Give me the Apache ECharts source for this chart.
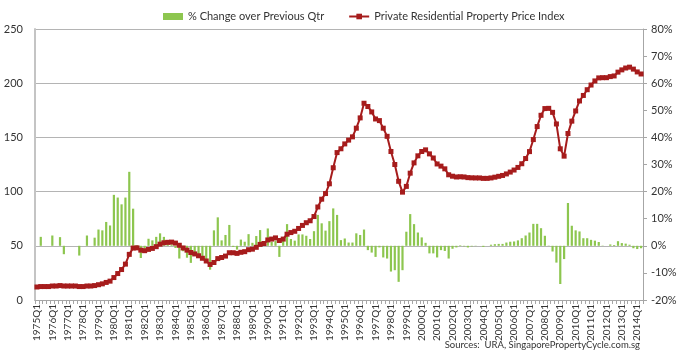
<!DOCTYPE html>
<html>
<head>
<meta charset="utf-8">
<script src="https://cdn.jsdelivr.net/npm/echarts@6/dist/echarts.min.js"></script>
<style>
  html, body { margin: 0; padding: 0; background: #fff; }
  #chart { width: 686px; height: 353px; }
</style>
</head>
<body>
<div id="chart"></div>
<script>
// quarters 1975Q1 .. 2014Q2
const quarters = []
for (let y = 1975; y <= 2014; y++) {
  for (let q = 1; q <= 4; q++) {
    if (y === 2014 && q > 2) break
    quarters.push(y + 'Q' + q)
  }
}

// Private Residential Property Price Index (left axis)
const priceIndex = [
  12.0, 12.4, 12.4, 12.4, 12.9, 12.9, 13.3, 12.9, 12.9, 12.9, 12.9, 12.4, 12.4, 12.9, 12.9, 13.3,
  14.1, 14.9, 16.2, 17.4, 20.7, 24.4, 28.1, 33.1, 42.1, 47.9, 48.1, 46.0, 45.5, 46.7, 47.6, 49.2,
  51.5, 52.8, 53.2, 53.4, 52.5, 50.5, 48.0, 46.0, 43.8, 42.5, 40.8, 38.5, 36.0, 32.8, 34.6, 38.2,
  39.2, 40.5, 43.6, 43.6, 43.0, 44.0, 44.6, 46.4, 46.9, 48.6, 51.3, 52.1, 55.4, 56.2, 57.3, 54.9,
  56.2, 60.7, 62.2, 63.4, 66.0, 68.8, 71.3, 73.1, 77.0, 85.8, 93.0, 98.2, 107.2, 122.0, 136.0, 139.5,
  144.0, 147.5, 150.5, 158.5, 168.0, 181.5, 178.5, 173.5, 167.0, 165.5, 158.5, 151.0, 137.0, 125.0, 109.5, 99.5,
  104.8, 117.0, 126.5, 133.0, 137.0, 138.5, 134.8, 131.0, 125.5, 123.5, 121.0, 115.5, 114.2, 113.5, 113.7, 113.5,
  112.9, 112.7, 112.6, 112.6, 112.2, 112.2, 112.6, 113.3, 114.1, 114.9, 116.3, 118.0, 119.9, 122.3, 125.7, 130.5,
  136.9, 148.0, 160.0, 170.4, 176.6, 176.8, 173.1, 162.4, 139.5, 132.7, 153.6, 165.0, 174.4, 183.6, 188.7, 194.0,
  198.3, 202.1, 204.9, 205.1, 205.1, 206.1, 206.7, 210.2, 212.3, 214.0, 214.8, 213.0, 210.4, 208.5
]

// % change over previous quarter (right axis)
const pctChange = [
  null, 3.3, 0, 0, 3.8, 0, 3.2, -3.1, 0, 0, 0, -3.6, 0, 3.8, 0, 3.0,
  6.0, 5.7, 8.8, 7.5, 18.8, 17.8, 15.3, 17.8, 27.3, 13.7, 0.3, -4.5, -1.0, 2.6, 2.0, 3.3,
  4.6, 3.3, 1.5, 0.5, -0.8, -4.7, -2.0, -4.4, -6.3, -2.8, -3.5, -3.8, -5.0, -8.8, 5.7, 10.5,
  2.0, 4.0, 7.7, -0.4, -1.4, 2.3, 1.5, 4.3, 1.1, 3.6, 5.8, 1.5, 6.4, 1.5, 1.9, -4.1,
  2.3, 8.0, 2.5, 1.9, 4.2, 4.2, 3.7, 2.5, 5.4, 11.4, 8.3, 5.6, 9.1, 13.8, 11.4, 2.1,
  2.7, 1.2, 1.2, 4.6, 4.0, 6.0, -1.6, -2.5, -4.1, -0.6, -4.3, -4.7, -9.5, -9.0, -13.3, -9.0,
  5.2, 11.7, 8.0, 4.9, 3.1, 1.1, -2.8, -2.8, -4.3, -1.6, -1.9, -4.7, -1.1, -0.6, 0.2, -0.2,
  -0.6, -0.2, -0.1, 0, -0.4, 0, 0.4, 0.6, 0.7, 0.7, 1.2, 1.5, 1.6, 2.0, 2.8, 3.8,
  4.9, 8.1, 8.1, 6.5, 3.7, 0.1, -2.1, -6.2, -14.1, -4.9, 15.8, 7.4, 5.7, 5.3, 2.8, 2.8,
  2.2, 1.9, 1.4, 0.1, 0, 0.5, 0.3, 1.7, 1.0, 0.8, 0.4, -0.9, -1.2, -0.9
]

const leftTicks = { min: 0, max: 250, step: 50 }
const rightTicks = { min: -20, max: 80, step: 10 }

const chart = echarts.init(document.getElementById('chart'))
const font = 'Lato, "Liberation Sans", sans-serif'

chart.setOption({
  animation: false,
  textStyle: { fontFamily: font },
  legend: {
    left: 158,
    top: 6,
    itemWidth: 20,
    itemHeight: 7,
    itemGap: 24,
    textStyle: { fontSize: 11, color: '#333', fontFamily: font },
    data: [
      { name: '% Change over Previous Qtr', icon: 'rect' },
      { name: 'Private Residential Property Price Index' }
    ]
  },
  grid: { left: 35, right: 43, top: 29, bottom: 53 },
  xAxis: {
    type: 'category',
    data: quarters,
    boundaryGap: true,
    axisLine: { lineStyle: { color: '#a6a6a6', width: 1 } },
    axisTick: { show: true, interval: 0, length: 4, lineStyle: { color: '#a6a6a6' } },
    axisLabel: { interval: 3, rotate: 90, fontSize: 10, color: '#333', margin: 4, fontFamily: font }
  },
  yAxis: [
    {
      type: 'value',
      min: leftTicks.min,
      max: leftTicks.max,
      interval: leftTicks.step,
      axisLine: { show: true, lineStyle: { color: '#c4c4c4', width: 2 } },
      axisTick: { show: false },
      axisLabel: { fontSize: 11, color: '#333', margin: 12, fontFamily: font },
      splitLine: { lineStyle: { color: '#b4b4b4', width: 1 } }
    },
    {
      type: 'value',
      min: rightTicks.min,
      max: rightTicks.max,
      interval: rightTicks.step,
      axisLine: { show: true, lineStyle: { color: '#a6a6a6', width: 1 } },
      axisTick: { show: true, length: 4, lineStyle: { color: '#a6a6a6' } },
      axisLabel: { fontSize: 11, color: '#333', margin: 8, formatter: '{value}%', fontFamily: font },
      splitLine: { show: false }
    }
  ],
  series: [
    {
      name: '% Change over Previous Qtr',
      type: 'bar',
      yAxisIndex: 1,
      data: pctChange,
      barWidth: 2.2,
      itemStyle: { color: '#8dc64f' },
      z: 1
    },
    {
      name: 'Private Residential Property Price Index',
      type: 'line',
      yAxisIndex: 0,
      data: priceIndex,
      symbol: 'rect',
      symbolSize: 5,
      showSymbol: true,
      showAllSymbol: true,
      lineStyle: { color: '#a61c1c', width: 2 },
      itemStyle: { color: '#a61c1c' },
      z: 3
    }
  ],
  graphic: [
    {
      type: 'text',
      right: 46,
      top: 340,
      style: { text: 'Sources:  URA, SingaporePropertyCycle.com.sg', fontSize: 9.5, fill: '#333', fontFamily: font }
    }
  ]
})
</script>
</body>
</html>
